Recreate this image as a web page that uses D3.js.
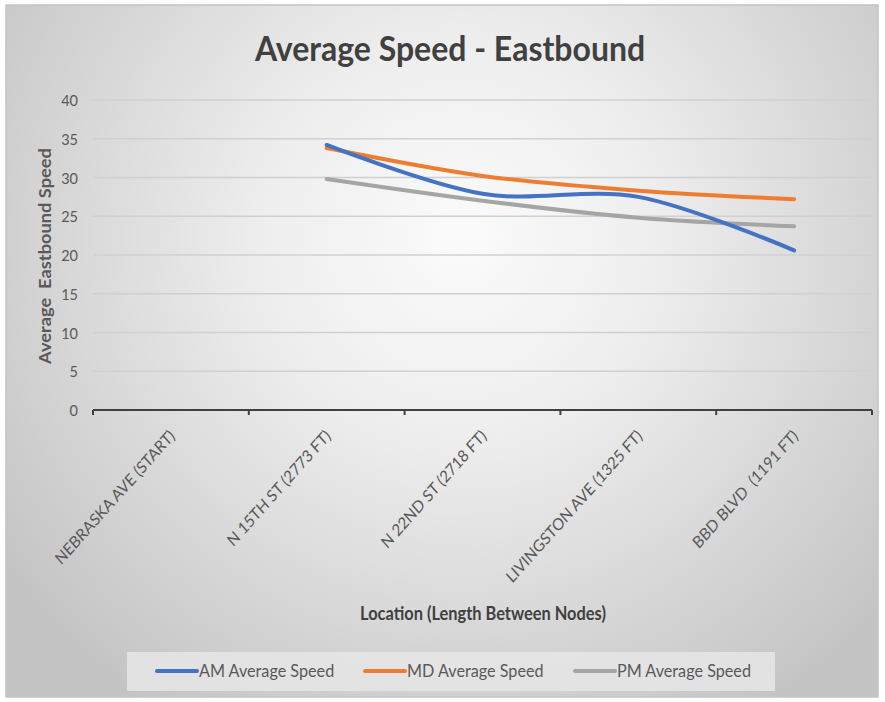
<!DOCTYPE html>
<html><head><meta charset="utf-8">
<script src="https://cdn.jsdelivr.net/npm/d3@7"></script>
<style>body{margin:0;background:#fff}svg{display:block}</style>
</head><body>
<script>
const categories = ["NEBRASKA AVE (START)", "N 15TH ST (2773 FT)", "N 22ND ST (2718 FT)", "LIVINGSTON AVE (1325 FT)", "BBD BLVD  (1191 FT)"];
const amSpeed = [null, 34.2, 27.9, 27.5, 20.6];
const mdSpeed = [null, 33.8, 30.2, 28.3, 27.2];
const pmSpeed = [null, 29.8, 27.0, 24.8, 23.7];
const seriesNames = ["AM Average Speed", "MD Average Speed", "PM Average Speed"];
const yTicks = [0, 5, 10, 15, 20, 25, 30, 35, 40];
const title = "Average Speed - Eastbound";
const yTitle = "Average  Eastbound Speed";
const xTitle = "Location (Length Between Nodes)";

const W = 885, H = 702;
const FONT = "Lato, 'Open Sans', sans-serif";
const SY = 1.12; // vertical stretch of the reference picture
const svg = d3.select("body").append("svg").attr("width", W).attr("height", H);
const defs = svg.append("defs");
const grad = defs.append("radialGradient").attr("id", "bg")
  .attr("gradientUnits", "userSpaceOnUse").attr("cx", 460).attr("cy", 240).attr("r", 560);
grad.append("stop").attr("offset", "0%").attr("stop-color", "#fbfbfb");
grad.append("stop").attr("offset", "35%").attr("stop-color", "#eeeeee");
grad.append("stop").attr("offset", "100%").attr("stop-color", "#c4c4c4");

svg.append("rect").attr("x", 6).attr("y", 5).attr("width", 872).attr("height", 692)
  .attr("fill", "url(#bg)").attr("stroke", "#c4c4c4").attr("stroke-width", 1.5);

const x = d3.scaleBand().domain(categories).range([93, 872]).padding(0);
const y = d3.scaleLinear().domain([0, 40]).range([410, 100]);

// gridlines
svg.append("g").selectAll("line").data(yTicks.filter(d => d > 0)).join("line")
  .attr("x1", 93).attr("x2", 872)
  .attr("y1", d => y(d)).attr("y2", d => y(d))
  .attr("stroke", "#d0d0d0").attr("stroke-width", 1.5);

// y axis labels
const yAxis = d3.axisLeft(y).tickValues(yTicks).tickSize(0).tickPadding(0);
const gy = svg.append("g").attr("transform", "translate(78,0)").call(yAxis);
gy.select(".domain").remove();
gy.selectAll("text").attr("font-family", FONT).attr("font-size", 14.5).attr("fill", "#595959")
  .attr("x", null).attr("dy", null)
  .attr("transform", `translate(0,5.5) scale(1,${SY})`);

// x axis
const xAxis = d3.axisBottom(x).tickSize(0).tickFormat("");
const gx = svg.append("g").attr("transform", "translate(0,410)").call(xAxis);
gx.select(".domain").attr("stroke", "#404040").attr("stroke-width", 2.2).attr("d", "M93,0H872");
gx.selectAll(".tick").remove();
const bounds = categories.map(c => x(c)).concat([x.range()[1]]);
gx.append("g").selectAll("line").data(bounds).join("line")
  .attr("x1", d => d).attr("x2", d => d).attr("y1", 0).attr("y2", 5)
  .attr("stroke", "#404040").attr("stroke-width", 2);

svg.append("g").selectAll("text").data(categories).join("text")
  .attr("transform", d => `translate(${x(d) + x.bandwidth() / 2 + 5},${437}) scale(1,${SY}) rotate(-45)`)
  .attr("text-anchor", "end")
  .attr("font-family", FONT).attr("font-size", 14.8).attr("fill", "#595959")
  .style("white-space", "pre")
  .text(d => d);

// titles
svg.append("text").attr("transform", `translate(450,61) scale(1,1.1)`).attr("text-anchor", "middle")
  .attr("font-family", FONT).attr("font-weight", "bold").attr("font-size", 32)
  .attr("fill", "#404040").text(title);
svg.append("text").attr("transform", `translate(51,256) scale(1,${SY}) rotate(-90)`).attr("text-anchor", "middle")
  .attr("font-family", FONT).attr("font-weight", "bold").attr("font-size", 16.3)
  .attr("fill", "#595959").style("white-space", "pre").text(yTitle);
svg.append("text").attr("transform", `translate(483,620) scale(1,${SY})`).attr("text-anchor", "middle")
  .attr("font-family", FONT).attr("font-weight", "bold").attr("font-size", 16.4)
  .attr("fill", "#404040").text(xTitle);

// lines
const colors = ["#4472C4", "#ED7D31", "#A5A5A5"];
const allSeries = [amSpeed, mdSpeed, pmSpeed];
const line = d3.line()
  .defined(d => d.v != null)
  .x(d => x(d.c) + x.bandwidth() / 2)
  .y(d => y(d.v))
  .curve(d3.curveCardinal.tension(0));
const order = [2, 1, 0];
order.forEach(i => {
  const data = categories.map((c, j) => ({c, v: allSeries[i][j]}));
  svg.append("path").datum(data).attr("d", line)
    .attr("fill", "none").attr("stroke", colors[i]).attr("stroke-width", 4)
    .attr("stroke-linecap", "round").attr("stroke-linejoin", "round");
});

// legend
const lg = svg.append("g");
lg.append("rect").attr("x", 127).attr("y", 652).attr("width", 648).attr("height", 39)
  .attr("fill", "#e6e6e6").attr("fill-opacity", 0.85);
const legX = [157, 365, 575];
seriesNames.forEach((n, i) => {
  lg.append("line").attr("x1", legX[i]).attr("x2", legX[i] + 40).attr("y1", 671).attr("y2", 671)
    .attr("stroke", colors[i]).attr("stroke-width", 4).attr("stroke-linecap", "round");
  lg.append("text").attr("transform", `translate(${legX[i] + 42},677) scale(1,${SY})`)
    .attr("font-family", FONT).attr("font-size", 16.2).attr("fill", "#595959").text(n);
});
</script>
</body></html>
